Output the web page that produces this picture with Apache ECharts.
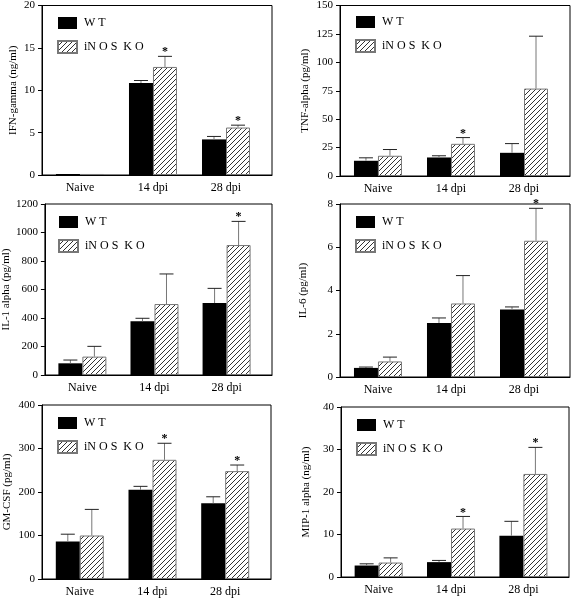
<!DOCTYPE html>
<html><head><meta charset="utf-8">
<script src="https://cdn.jsdelivr.net/npm/echarts@6/dist/echarts.min.js"></script>
<style>html,body{margin:0;padding:0;background:#fff}#c{width:576px;height:598px}</style>
</head><body><div id="c"></div>
<script>
// ---- data ----
const categories = ['Naive', '14 dpi', '28 dpi'];
const seriesNames = ['WT', 'iNOS KO'];

const ifnWT = [0.1, 10.85, 4.2];
const ifnWTUp = [0.1, 11.15, 4.55];
const ifnKO = [0.12, 12.75, 5.6];
const ifnKOUp = [0.12, 14.0, 5.88];
const ifnStar = [0, 1, 1];

const tnfWT = [13.4, 16.3, 20.4];
const tnfWTUp = [16.0, 17.8, 28.5];
const tnfKO = [17.8, 28.3, 76.9];
const tnfKOUp = [23.3, 33.8, 123];
const tnfStar = [0, 1, 0];

const il1WT = [82, 377, 505];
const il1WTUp = [105, 398, 608];
const il1KO = [129, 498, 912];
const il1KOUp = [201, 709, 1078];
const il1Star = [0, 0, 1];

const il6WT = [0.42, 2.5, 3.12];
const il6WTUp = [0.46, 2.73, 3.24];
const il6KO = [0.72, 3.4, 6.3];
const il6KOUp = [0.92, 4.69, 7.8];
const il6Star = [0, 0, 1];

const gmWT = [86, 205, 174];
const gmWTUp = [103, 213, 189];
const gmKO = [100, 274, 248];
const gmKOUp = [160, 312, 262];
const gmStar = [0, 1, 1];

const mipWT = [2.7, 3.5, 9.7];
const mipWTUp = [3.1, 3.9, 13.1];
const mipKO = [3.4, 11.4, 24.25];
const mipKOUp = [4.5, 14.25, 30.5];
const mipStar = [0, 1, 1];

const yTitles = ['IFN-gamma (ng/ml)', 'TNF-alpha (pg/ml)', 'IL-1 alpha (pg/ml)', 'IL-6 (pg/ml)', 'GM-CSF (pg/ml)', 'MIP-1 alpha (ng/ml)'];
const yMax = [20, 150, 1200, 8, 400, 40];
const yStep = [5, 25, 200, 2, 100, 10];

const panels = [
  [ifnWT, ifnWTUp, ifnKO, ifnKOUp, ifnStar],
  [tnfWT, tnfWTUp, tnfKO, tnfKOUp, tnfStar],
  [il1WT, il1WTUp, il1KO, il1KOUp, il1Star],
  [il6WT, il6WTUp, il6KO, il6KOUp, il6Star],
  [gmWT, gmWTUp, gmKO, gmKOUp, gmStar],
  [mipWT, mipWTUp, mipKO, mipKOUp, mipStar]
];

// ---- layout (pixels) ----
const layout = [
  {l: 42, t: 5, r: 272, b: 175, gap: 23},
  {l: 340, t: 4, r: 570, b: 176, gap: 29},
  {l: 43, t: 204, r: 272, b: 375, gap: 27},
  {l: 340, t: 204, r: 570, b: 377, gap: 31},
  {l: 42, t: 405, r: 271, b: 579, gap: 29},
  {l: 341, t: 407, r: 569, b: 577, gap: 29}
];
const BW = 24;
const FONT = 'Liberation Serif';

// hatch pattern
const pc = document.createElement('canvas');
pc.width = 5; pc.height = 5;
const pctx = pc.getContext('2d');
pctx.fillStyle = '#fff'; pctx.fillRect(0, 0, 5, 5);
pctx.strokeStyle = '#333'; pctx.lineWidth = 1;
pctx.beginPath();
pctx.moveTo(-1, 6); pctx.lineTo(6, -1);
pctx.moveTo(-1, 1); pctx.lineTo(1, -1);
pctx.moveTo(4, 6); pctx.lineTo(6, 4);
pctx.stroke();
const hatch = {image: pc, repeat: 'repeat'};

const legendText = {'WT': 'W T', 'iNOS KO': 'iN O S  K O'};

const grids = [], xAxes = [], yAxes = [], series = [], legends = [];
layout.forEach((g, i) => {
  grids.push({left: g.l, top: g.t, width: g.r - g.l, height: g.b - g.t, show: true,
    borderColor: '#000', borderWidth: 1, backgroundColor: 'transparent'});
  xAxes.push({type: 'value', gridIndex: i, min: 0.48, max: 3.63,
    axisLine: {show: true, lineStyle: {color: '#000', width: 1}},
    axisTick: {show: false}, splitLine: {show: false},
    axisLabel: {customValues: [1, 2, 3], margin: 7, color: '#000', fontFamily: FONT, fontSize: 12,
      formatter: v => categories[Math.round(v) - 1]}});
  yAxes.push({type: 'value', gridIndex: i, min: 0, max: yMax[i], interval: yStep[i],
    name: yTitles[i], nameLocation: 'middle', nameGap: g.gap,
    nameTextStyle: {color: '#000', fontFamily: FONT, fontSize: 11},
    axisLine: {show: true, lineStyle: {color: '#000', width: 1}},
    axisTick: {show: true, inside: false, length: 4, lineStyle: {color: '#000'}},
    splitLine: {show: false},
    axisLabel: {margin: 7, color: '#000', fontFamily: FONT, fontSize: 11, formatter: v => String(v)}});
  const d = panels[i];
  series.push({type: 'bar', name: 'WT', xAxisIndex: i, yAxisIndex: i, barWidth: BW, barGap: '0%',
    barMinHeight: 1,
    itemStyle: {color: '#000', borderColor: '#000', borderWidth: 0},
    data: d[0].map((v, k) => [k + 1, v]), animation: false});
  series.push({type: 'bar', name: 'iNOS KO', xAxisIndex: i, yAxisIndex: i, barWidth: BW, barGap: '0%',
    barMinHeight: 1,
    itemStyle: {color: hatch, borderColor: '#777', borderWidth: 1},
    data: d[2].map((v, k) => [k + 1, v]), animation: false});
  [[d[0], d[1], null, -BW / 2], [d[2], d[3], d[4], BW / 2]].forEach(([vals, ups, stars, off]) => {
    series.push({type: 'custom', xAxisIndex: i, yAxisIndex: i, animation: false, silent: true, z: 5,
      data: vals.map((v, k) => [k + 1, v, ups[k], stars ? stars[k] : 0]),
      renderItem: (params, api) => {
        const p0 = api.coord([api.value(0), api.value(1)]);
        const p1 = api.coord([api.value(0), api.value(2)]);
        const x = p0[0] + off;
        const ch = [];
        if (p0[1] - p1[1] > 0.5) {
          ch.push({type: 'line', shape: {x1: x, y1: p0[1], x2: x, y2: p1[1]}, style: {stroke: '#777', lineWidth: 1}});
          ch.push({type: 'line', shape: {x1: x - 7, y1: p1[1], x2: x + 7, y2: p1[1]}, style: {stroke: '#222', lineWidth: 1}});
        }
        if (api.value(3)) {
          ch.push({type: 'text', x: x, y: p1[1] + 2, style: {text: '*', fontSize: 12, fontWeight: 'bold',
            fontFamily: FONT, fill: '#000', align: 'center', verticalAlign: 'bottom'}});
        }
        return {type: 'group', children: ch};
      }});
  });
  legends.push({orient: 'vertical', left: g.l + 10, top: g.t + 7, itemWidth: 19, itemHeight: 12, itemGap: 11,
    data: seriesNames, icon: 'rect', selectedMode: false,
    textStyle: {color: '#000', fontFamily: FONT, fontSize: 12, padding: [0, 0, 0, 2]},
    formatter: n => legendText[n]});
});

const chart = echarts.init(document.getElementById('c'), null, {renderer: 'canvas'});
chart.setOption({animation: false, grid: grids, xAxis: xAxes, yAxis: yAxes, series: series, legend: legends});
</script></body></html>
